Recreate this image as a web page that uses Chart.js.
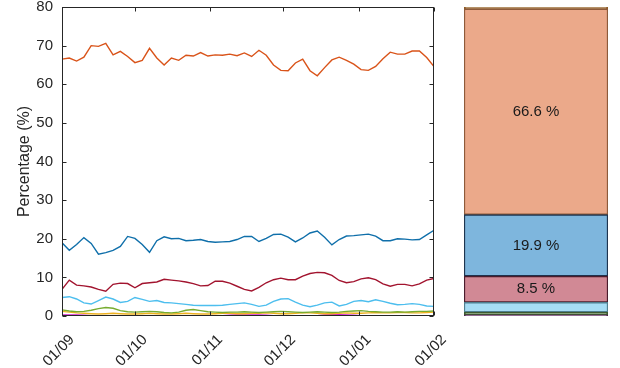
<!DOCTYPE html>
<html><head><meta charset="utf-8">
<script src="https://cdn.jsdelivr.net/npm/chart.js@4/dist/chart.umd.min.js"></script>
<style>html,body{margin:0;padding:0;background:#fff;width:620px;height:368px;overflow:hidden}canvas{position:absolute;top:0}</style>
</head><body>
<canvas id="c1" width="450" height="368" style="left:0;width:450px;height:368px"></canvas>
<canvas id="c2" width="144" height="368" style="left:464px;width:144px;height:368px"></canvas>
<script>
// Day offsets from 01/09 (x positions of samples)
const days = [0,3,6,9,12,15,18,21,24,27,30,33,36,39,42,45,48,51,54,57,60,63,66,69,72,75,78,81,84,87,90,93,96,99,102,105,108,111,114,117,120,123,126,129,132,135,138,141,144,147,150,153];
const tickDays = [0,30,61,91,122,153];
const tickLabels = ['01/09','01/10','01/11','01/12','01/01','01/02'];

const orange = [66.5,66.8,66.0,67.0,70.0,69.8,70.6,67.6,68.5,67.2,65.6,66.2,69.3,66.8,65.0,66.8,66.2,67.5,67.3,68.2,67.3,67.6,67.5,67.8,67.4,68.1,67.2,68.8,67.5,65.0,63.6,63.5,65.5,66.5,63.5,62.2,64.3,66.3,67.0,66.2,65.2,63.8,63.6,64.6,66.6,68.3,67.8,67.8,68.6,68.6,66.9,64.6];
const blue = [19.0,17.0,18.5,20.3,18.8,16.0,16.4,17.0,18.0,20.6,20.1,18.5,16.5,19.5,20.5,20.0,20.1,19.5,19.6,19.8,19.3,19.1,19.2,19.3,19.8,20.6,20.6,19.3,20.1,21.1,21.2,20.4,19.2,20.2,21.5,22.0,20.4,18.4,19.8,20.7,20.8,21.0,21.2,20.7,19.5,19.5,20.0,19.9,19.7,19.8,21.0,22.2];
const darkred = [6.9,9.3,8.0,7.8,7.5,6.9,6.4,8.2,8.5,8.4,7.3,8.4,8.6,8.8,9.5,9.3,9.1,8.8,8.4,7.8,7.9,9.0,9.0,8.5,7.7,6.9,6.5,7.4,8.6,9.4,9.8,9.4,9.4,10.3,11.0,11.3,11.2,10.5,9.2,8.6,8.9,9.6,9.9,9.4,8.3,7.7,8.2,8.2,7.8,8.3,9.3,9.7];
const lightblue = [4.8,5.0,4.4,3.4,3.1,4.0,4.9,4.4,3.5,3.8,4.8,4.3,3.8,4.0,3.5,3.4,3.2,3.0,2.8,2.7,2.7,2.7,2.8,3.0,3.2,3.4,3.0,2.5,2.8,3.8,4.4,4.5,3.6,2.8,2.4,2.8,3.4,3.6,2.6,3.0,3.8,4.0,3.7,4.2,3.8,3.3,2.9,3.0,3.2,3.0,2.6,2.5];
const green = [1.6,1.3,1.1,1.2,1.5,1.9,2.2,2.0,1.4,1.1,1.0,1.1,1.2,1.1,0.9,0.8,1.0,1.5,1.7,1.4,1.1,1.0,0.9,1.0,1.0,1.1,1.0,0.9,1.0,1.1,1.2,1.1,1.0,0.9,1.0,1.1,1.0,0.9,1.0,1.2,1.3,1.4,1.2,1.1,1.0,1.0,1.1,1.0,1.1,1.2,1.2,1.3];
const yellow = [1.2,1.0,0.8,0.7,0.6,0.5,0.6,0.7,0.6,0.5,0.5,0.6,0.7,0.6,0.5,0.5,0.6,0.7,0.6,0.5,0.5,0.6,0.7,0.7,0.6,0.6,0.7,0.7,0.8,0.7,0.6,0.6,0.7,0.8,0.8,0.7,0.6,0.6,0.7,0.8,0.7,0.7,0.8,0.9,0.8,0.8,0.9,0.9,0.8,0.8,0.9,1.0];
const magenta = [0.3,0.3,0.3,0.2,0.1,0.05,0.05,0.05,0.05,0.05,0.05,0.05,0.05,0.05,0.05,0.05,0.05,0.05,0.05,0.05,0.05,0.05,0.1,0.2,0.3,0.3,0.3,0.3,0.2,0.05,0.05,0.05,0.05,0.05,0.05,0.1,0.3,0.35,0.35,0.3,0.2,0.05,0.05,0.05,0.05,0.05,0.05,0.05,0.05,0.05,0.05,0.05];

// Average shares for the stacked bar (bottom to top)
const shareNames = ['magenta','green','lightblue','darkred','blue','orange','yellow'];
const shareValues = [0.4,0.8,3.2,8.5,19.9,66.6,0.6];
const shareFill = ['#7E4A7E','#6F9A5C','#A6DDF5','#D18995','#7EB6DD','#EBA98A','#A87A40'];
const shareEdge = ['#4A2A4A','#3D5A30','#4F7F90','#4A1C2C','#1E3550','#8E5A3A','#8A5A28'];

const FONT = '"Liberation Sans", Arial, Helvetica, sans-serif';
const TXT = '#262626';

function pts(arr){ return arr.map((v,i)=>({x:days[i], y:v})); }
const lineDs = (label, arr, color) => ({label, data: pts(arr), borderColor: color, backgroundColor: color, borderWidth: 1.4, pointRadius: 0, tension: 0, fill: false});

const boxPlugin = {
  id: 'box',
  afterDatasetsDraw(chart){
    const {ctx, chartArea: a, scales} = chart;
    ctx.save();
    ctx.strokeStyle = TXT; ctx.lineWidth = 1;
    const L = Math.round(a.left)+0.5, R = Math.round(a.right)-0.5, T = Math.round(a.top)+0.5, B = Math.round(a.bottom)-0.5;
    ctx.strokeRect(L, T, R-L, B-T);
    ctx.beginPath();
    scales.x.ticks.forEach(t => {
      const x = Math.round(scales.x.getPixelForValue(t.value))+0.5;
      ctx.moveTo(x, B); ctx.lineTo(x, B-4);
      ctx.moveTo(x, T); ctx.lineTo(x, T+4);
    });
    scales.y.ticks.forEach(t => {
      const y = Math.round(scales.y.getPixelForValue(t.value))+0.5;
      ctx.moveTo(L, y); ctx.lineTo(L+4, y);
      ctx.moveTo(R, y); ctx.lineTo(R-4, y);
    });
    ctx.stroke();
    ctx.restore();
  }
};

new Chart(document.getElementById('c1'), {
  type: 'line',
  data: { datasets: [
    lineDs('Orange', orange, '#D95319'),
    lineDs('Blue', blue, '#0F6FAA'),
    lineDs('Dark red', darkred, '#A2142F'),
    lineDs('Light blue', lightblue, '#4DBEEE'),
    lineDs('Green', green, '#77AC30'),
    lineDs('Yellow', yellow, '#EDB120'),
    lineDs('Magenta', magenta, '#D21FD2')
  ]},
  options: {
    responsive: false, animation: false, devicePixelRatio: 1,
    layout: { padding: { top: 7, right: 16, left: 0, bottom: 0 } },
    plugins: { legend: { display: false }, tooltip: { enabled: false } },
    scales: {
      x: {
        type: 'linear', min: 0, max: 153,
        grid: { display: false, drawTicks: false }, border: { display: false },
        afterBuildTicks: s => { s.ticks = tickDays.map(v => ({ value: v })); },
        afterFit: s => { s.height = 52; s.paddingLeft = 0; s.paddingRight = 0; },
        ticks: { autoSkip: false, minRotation: 45, maxRotation: 45, padding: 15, labelOffset: 10,
          color: TXT, font: { family: FONT, size: 15 },
          callback: v => tickLabels[tickDays.indexOf(v)] }
      },
      y: {
        min: 0, max: 80,
        grid: { display: false, drawTicks: false }, border: { display: false },
        afterFit: s => { s.width = 62; s.paddingTop = 0; s.paddingBottom = 0; },
        ticks: { stepSize: 10, padding: 9, color: TXT, font: { family: FONT, size: 15 } },
        title: { display: true, text: 'Percentage (%)', color: TXT, font: { family: FONT, size: 16 }, padding: { top: 15, bottom: 0 } }
      }
    }
  },
  plugins: [boxPlugin]
});

const labelPlugin = {
  id: 'barLabels',
  afterDatasetsDraw(chart){
    const ctx = chart.ctx;
    ctx.save();
    ctx.fillStyle = '#1a1a1a';
    ctx.font = '15px ' + FONT;
    ctx.textAlign = 'center'; ctx.textBaseline = 'middle';
    chart.data.datasets.forEach((ds, i) => {
      const v = ds.data[0];
      if (v < 5) return;
      const el = chart.getDatasetMeta(i).data[0];
      ctx.fillText(v.toFixed(1) + ' %', el.x, (el.y + el.base) / 2);
    });
    ctx.restore();
  }
};

new Chart(document.getElementById('c2'), {
  type: 'bar',
  data: {
    labels: ['Mean'],
    datasets: shareValues.map((v, i) => ({
      label: shareNames[i], data: [v], backgroundColor: shareFill[i], borderColor: shareEdge[i],
      borderWidth: 1.5, borderSkipped: false, barPercentage: 1, categoryPercentage: 1, stack: 's'
    }))
  },
  options: {
    responsive: false, animation: false, devicePixelRatio: 1,
    layout: { padding: { top: 7, bottom: 52, left: 0, right: 0 } },
    plugins: { legend: { display: false }, tooltip: { enabled: false } },
    scales: {
      x: { stacked: true, display: false },
      y: { stacked: true, display: false, min: 0, max: 100 }
    }
  },
  plugins: [labelPlugin]
});
</script>
</body></html>
